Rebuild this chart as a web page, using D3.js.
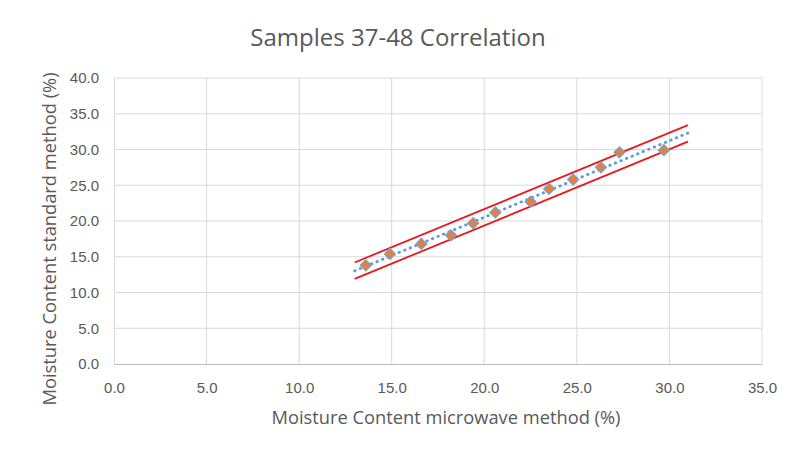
<!DOCTYPE html>
<html>
<head>
<meta charset="utf-8">
<script src="https://cdn.jsdelivr.net/npm/d3@7"></script>
<style>
  body { margin: 0; background: #fff; }
  svg { font-family: "Open Sans", "Noto Sans", sans-serif; }
</style>
</head>
<body>
<svg id="chart" width="803" height="462"></svg>
<script>
// microwave method (x) vs standard method (y)
const microwave = [13.6, 14.9, 16.6, 18.2, 19.4, 20.6, 22.5, 23.5, 24.8, 26.3, 27.3, 29.7];
const standard = [13.8, 15.4, 16.8, 18.0, 19.7, 21.2, 22.7, 24.5, 25.8, 27.5, 29.6, 29.9];
const xTicks = [0, 5, 10, 15, 20, 25, 30, 35];
const yTicks = [0, 5, 10, 15, 20, 25, 30, 35, 40];
// red limit lines
const upperX = [13, 31], upperY = [14.2, 33.4];
const lowerX = [13, 31], lowerY = [11.9, 31.1];
const trendRange = [13, 31];

const svg = d3.select('#chart');
const margin = { top: 78, right: 41, bottom: 98, left: 114 };
const width = 803 - margin.left - margin.right;
const height = 462 - margin.top - margin.bottom;

const x = d3.scaleLinear().domain([0, 35]).range([margin.left, margin.left + width]);
const y = d3.scaleLinear().domain([0, 40]).range([margin.top + height, margin.top]);

// gridlines
svg.append('g').selectAll('line.h').data(yTicks.slice(1)).join('line')
  .attr('x1', x(0)).attr('x2', x(35))
  .attr('y1', d => y(d)).attr('y2', d => y(d))
  .attr('stroke', '#d9d9d9').attr('stroke-width', 1);
svg.append('g').selectAll('line.v').data(xTicks.slice(1)).join('line')
  .attr('x1', d => x(d)).attr('x2', d => x(d))
  .attr('y1', y(0)).attr('y2', y(40))
  .attr('stroke', '#d9d9d9').attr('stroke-width', 1);

// axes
const xAxis = svg.append('g').attr('transform', `translate(0,${y(0)})`)
  .call(d3.axisBottom(x).tickValues(xTicks).tickFormat(d3.format('.1f')).tickSize(0).tickPadding(18));
const yAxis = svg.append('g').attr('transform', `translate(${x(0)},0)`)
  .call(d3.axisLeft(y).tickValues(yTicks).tickFormat(d3.format('.1f')).tickSize(0).tickPadding(15));
[xAxis, yAxis].forEach(a => {
  a.select('.domain').attr('stroke', '#bfbfbf');
  a.selectAll('text').attr('fill', '#595959').style('font-size', '15px');
});
yAxis.select('.domain').attr('stroke', '#d9d9d9');

// linear trendline from the points
const pts = microwave.map((v, i) => [v, standard[i]]);
const mx = d3.mean(microwave), my = d3.mean(standard);
const slope = d3.sum(pts, p => (p[0] - mx) * (p[1] - my)) / d3.sum(pts, p => (p[0] - mx) ** 2);
const icpt = my - slope * mx;
const line = d3.line().x(d => x(d[0])).y(d => y(d[1]));

svg.append('path')
  .attr('d', line(trendRange.map(v => [v, icpt + slope * v])))
  .attr('fill', 'none').attr('stroke', '#5b9bd5').attr('stroke-width', 2.8)
  .attr('stroke-dasharray', '0.5,5.5').attr('stroke-linecap', 'round');

svg.append('path')
  .attr('d', line(upperX.map((v, i) => [v, upperY[i]])))
  .attr('fill', 'none').attr('stroke', '#e8191a').attr('stroke-width', 1.8);
svg.append('path')
  .attr('d', line(lowerX.map((v, i) => [v, lowerY[i]])))
  .attr('fill', 'none').attr('stroke', '#e8191a').attr('stroke-width', 1.8);

// diamond markers
const sym = d3.symbol().type(d3.symbolSquare).size(56);
svg.append('g').selectAll('path').data(pts).join('path')
  .attr('d', sym)
  .attr('transform', d => `translate(${x(d[0])},${y(d[1])}) rotate(45)`)
  .attr('fill', '#ed7d31').attr('stroke', '#7f9fc0').attr('stroke-width', 1.5);

// titles
svg.append('text').attr('x', 398).attr('y', 46).attr('text-anchor', 'middle')
  .attr('fill', '#595959').style('font-size', '24px').text('Samples 37-48 Correlation');
svg.append('text').attr('x', 446).attr('y', 424).attr('text-anchor', 'middle')
  .attr('fill', '#595959').style('font-size', '18.3px').text('Moisture Content microwave method (%)');
svg.append('text').attr('transform', 'translate(56,239) rotate(-90)').attr('text-anchor', 'middle')
  .attr('fill', '#595959').style('font-size', '18.3px').text('Moisture Content standard method (%)');
</script>
</body>
</html>
